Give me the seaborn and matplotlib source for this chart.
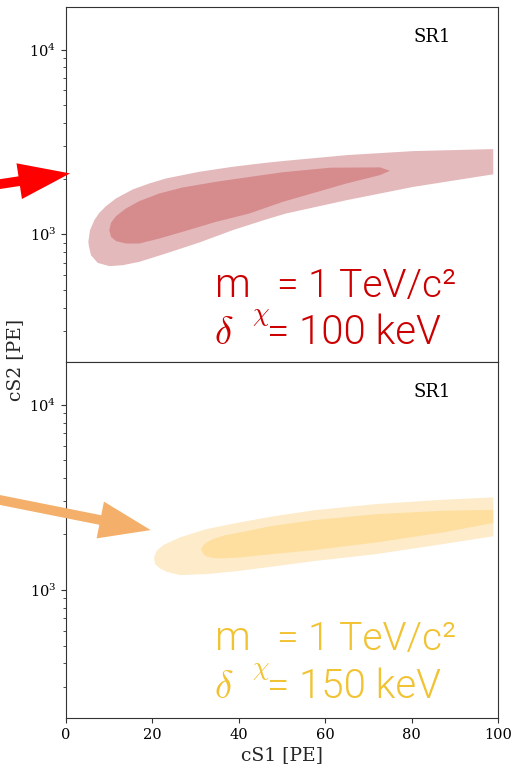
import numpy as np
import matplotlib
matplotlib.use("Agg")
import matplotlib.pyplot as plt
import seaborn as sns

# ---------------- data ----------------
# Top panel (delta = 100 keV): outer (light) and inner (dark) contour bands
top_outer_up_x = [5.17, 5.56, 6.56, 7.72, 9.26, 11.57, 15.43, 19.29, 23.15, 30.86, 38.58, 46.3, 50.93, 64.98, 80.39, 98.9]
top_outer_up_y = [910, 1051, 1191, 1305, 1418, 1561, 1746, 1882, 2003, 2177, 2317, 2436, 2498, 2680, 2818, 2889]
top_outer_lo_x = [5.17, 5.3, 5.79, 7.33, 10.03, 13.12, 16.98, 23.15, 30.86, 38.58, 46.3, 50.93, 64.98, 80.39, 98.9]
top_outer_lo_y = [910, 860, 769, 699, 671, 679, 708, 786, 901, 1051, 1201, 1294, 1528, 1803, 2109]

top_inner_up_x = [10.03, 10.42, 11.57, 13.89, 16.98, 21.6, 27.0, 34.72, 42.44, 50.2, 61.11, 72.69, 75.0]
top_inner_up_y = [1051, 1152, 1252, 1378, 1510, 1661, 1790, 1921, 2040, 2165, 2290, 2300, 2203]
top_inner_lo_x = [10.03, 10.42, 11.57, 13.89, 16.98, 21.6, 27.0, 34.72, 42.44, 50.2, 64.98, 72.69, 75.0]
top_inner_lo_y = [1051, 967, 917, 890, 890, 947, 1030, 1166, 1294, 1497, 1883, 2089, 2203]

# Bottom panel (delta = 150 keV)
bot_outer_up_x = [20.37, 20.99, 22.53, 26.39, 32.56, 40.28, 47.99, 57.5, 71.92, 87.34, 98.9]
bot_outer_up_y = [1496, 1625, 1744, 1919, 2129, 2313, 2493, 2690, 2906, 3065, 3155]
bot_outer_lo_x = [20.37, 20.6, 21.76, 23.3, 26.39, 32.56, 40.28, 47.99, 57.5, 71.92, 87.34, 98.9]
bot_outer_lo_y = [1496, 1377, 1305, 1252, 1201, 1216, 1267, 1337, 1430, 1560, 1767, 1946]

bot_inner_up_x = [31.25, 31.79, 32.56, 34.1, 36.4, 40.28, 47.99, 57.5, 71.92, 87.34, 98.9]
bot_inner_up_y = [1660, 1744, 1803, 1880, 1960, 2042, 2219, 2380, 2563, 2673, 2704]
bot_inner_lo_x = [31.25, 31.79, 32.56, 34.1, 36.4, 40.28, 47.99, 57.5, 71.92, 87.34, 98.9]
bot_inner_lo_y = [1660, 1560, 1515, 1484, 1478, 1496, 1560, 1640, 1803, 2042, 2296]

# arrow tips (data coords) for the two panels
top_arrow_tip = (0.93, 2133)
bot_arrow_tip = (19.6, 2102)

panel_tag = "SR1"
top_mass_text = "= 1 TeV/c\u00b2"
top_delta_text = "= 100 keV"
bot_mass_text = "= 1 TeV/c\u00b2"
bot_delta_text = "= 150 keV"
x_ticks = [0, 20, 40, 60, 80, 100]
x_label = "cS1 [PE]"
y_label = "cS2 [PE]"

# ---------------- styling ----------------
sns.set_theme(style="ticks")
plt.rcParams.update({
    "font.family": ["DejaVu Serif"],
    "mathtext.fontset": "cm",
    "axes.edgecolor": "#333333",
    "axes.linewidth": 0.8,
    "xtick.color": "#333333",
    "ytick.color": "#333333",
    "xtick.labelcolor": "black",
    "ytick.labelcolor": "black",
    "xtick.direction": "out",
    "ytick.direction": "out",
    "xtick.major.size": 3.5,
    "ytick.major.size": 3.5,
    "ytick.minor.size": 2.0,
    "xtick.major.width": 0.8,
    "ytick.major.width": 0.8,
    "ytick.minor.width": 0.6,
    "xtick.labelsize": 10.5,
    "ytick.labelsize": 10.5,
    "axes.facecolor": "white",
    "figure.facecolor": "white",
})

W_PX, H_PX = 519, 767
fig = plt.figure(figsize=(W_PX / 100, H_PX / 100), dpi=100)

def fx(px):
    return px / W_PX

def fy(py):
    return 1 - py / H_PX

L, R = fx(66), fx(498)
T, M, B = fy(7), fy(362), fy(718)
ax1 = fig.add_axes([L, M, R - L, T - M])
ax2 = fig.add_axes([L, B, R - L, M - B], sharex=ax1)

def band(ax, ux, uy, lx, ly, color):
    xs = np.concatenate([np.asarray(ux, float), np.asarray(lx, float)[::-1]])
    ys = np.concatenate([np.asarray(uy, float), np.asarray(ly, float)[::-1]])
    ax.fill(xs, ys, color=color, lw=0, zorder=2)

band(ax1, top_outer_up_x, top_outer_up_y, top_outer_lo_x, top_outer_lo_y, "#e4b9bb")
band(ax1, top_inner_up_x, top_inner_up_y, top_inner_lo_x, top_inner_lo_y, "#d68b8d")
band(ax2, bot_outer_up_x, bot_outer_up_y, bot_outer_lo_x, bot_outer_lo_y, "#fdebca")
band(ax2, bot_inner_up_x, bot_inner_up_y, bot_inner_lo_x, bot_inner_lo_y, "#fedf9f")

for ax in (ax1, ax2):
    ax.set_yscale("log")
    ax.set_ylim(203, 17000)
    ax.set_xlim(0, 100)
    for s in ax.spines.values():
        s.set_visible(True)
    ax.tick_params(axis="y", which="both", left=True, right=False)
    ax.text(0.847, 0.915, panel_tag, transform=ax.transAxes, ha="center", va="center",
            fontsize=13, color="black")

ax1.tick_params(axis="x", which="both", bottom=False, labelbottom=False)
ax2.set_xticks(x_ticks)
ax2.tick_params(axis="x", which="both", bottom=True, top=False)
ax2.set_xlabel(x_label, fontsize=13.5, labelpad=3)
fig.text(fx(15), fy(360), y_label, rotation=90, ha="center", va="center", fontsize=13.5)

# arrows
ax1.annotate("", xy=top_arrow_tip, xycoords="data",
             xytext=(fx(-10), fy(185.6)), textcoords="figure fraction",
             annotation_clip=False,
             arrowprops=dict(arrowstyle="simple,head_length=37,head_width=26,tail_width=7",
                             mutation_scale=1, color="#ff0000", lw=0,
                             shrinkA=0, shrinkB=0))
ax2.annotate("", xy=bot_arrow_tip, xycoords="data",
             xytext=(fx(-10), fy(498)), textcoords="figure fraction",
             annotation_clip=False,
             arrowprops=dict(arrowstyle="simple,head_length=37,head_width=27,tail_width=7",
                             mutation_scale=1, color="#f4b06a", lw=0,
                             shrinkA=0, shrinkB=0))

# big labels
SANS = ["Roboto", "DejaVu Sans"]
WEIGHT = 300

def big_label(base1, base2, mass_text, delta_text, color):
    fig.text(fx(215), fy(base1), "m", fontsize=29, color=color, family=SANS,
             fontweight=WEIGHT, ha="left", va="baseline")
    fig.text(fx(261), fy(base1 + 19), r"$\chi$", fontsize=19, color=color,
             ha="center", va="center")
    fig.text(fx(277), fy(base1), mass_text, fontsize=28, color=color, family=SANS,
             fontweight=WEIGHT, ha="left", va="baseline")
    fig.text(fx(214), fy(base2), r"$\delta$", fontsize=28, color=color,
             ha="left", va="baseline")
    fig.text(fx(267), fy(base2), delta_text, fontsize=29, color=color, family=SANS,
             fontweight=WEIGHT, ha="left", va="baseline")

big_label(297, 344, top_mass_text, top_delta_text, "#cc0000")
big_label(650, 698, bot_mass_text, bot_delta_text, "#f1c232")

fig.savefig("out.png", dpi=100)
